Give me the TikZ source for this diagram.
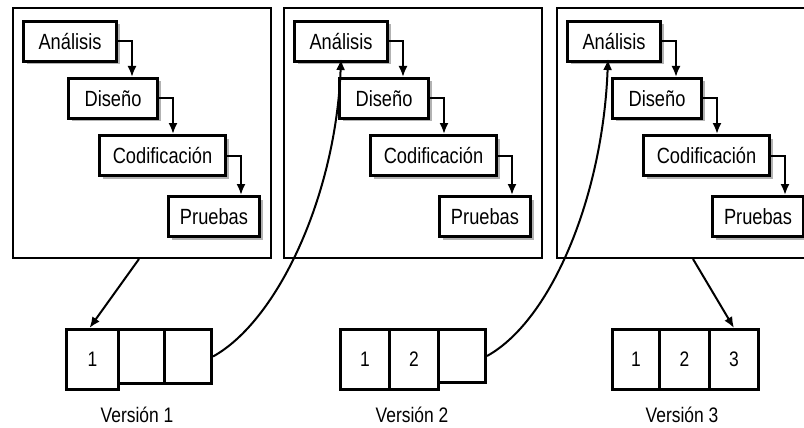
\documentclass[tikz,border=0pt]{standalone}
\usepackage{fontspec}
\setmainfont{Liberation Sans}[FakeStretch=0.83]
\usetikzlibrary{arrows.meta,shadows}

\begin{document}
\begin{tikzpicture}[x=1pt, y=-1pt,
    panel/.style={draw, line width=2pt, minimum width=258, minimum height=250, anchor=north west, inner sep=0},
    fase/.style={draw, line width=3pt, fill=white, minimum height=40, anchor=north west, inner sep=0,
        font=\fontsize{22}{24}\selectfont,
        drop shadow={shadow xshift=3pt, shadow yshift=-3pt, opacity=0.3, fill=black}},
    celda/.style={draw, line width=3pt, anchor=north west, inner sep=0, font=\fontsize{21}{24}\selectfont},
    flecha/.style={line width=2pt, -{Latex[length=11pt, width=9pt]}},
    etiqueta/.style={font=\fontsize{21}{24}\selectfont}]
    \path[use as bounding box, clip] (0,0) rectangle (804,428);

    % Ciclo en cascada de cada version
    \foreach \n/\x in {1/12, 2/283, 3/556} {
        \node[panel] (p\n) at (\x,7) {};
        \node[fase, minimum width=93] (a\n) at (\x+10,20) {Análisis};
        \node[fase, minimum width=89] (d\n) at (\x+55,77) {Diseño};
        \node[fase, minimum width=126] (c\n) at (\x+86,134) {Codificación};
        \node[fase, minimum width=91] (r\n) at (\x+155,195) {Pruebas};
        \draw[flecha] (a\n.east) -| ([xshift=14]a\n.east |- d\n.north);
        \draw[flecha] (d\n.east) -| ([xshift=14]d\n.east |- c\n.north);
        \draw[flecha] (c\n.east) -| ([xshift=14]c\n.east |- r\n.north);
    }

    % Versiones
    \node[celda, minimum width=52, minimum height=60] (va1) at (65,328) {1};
    \node[celda, minimum width=46, minimum height=54] (vb1) at (117,328) {};
    \node[celda, minimum width=47, minimum height=54] (vc1) at (163,328) {};
    \node[etiqueta] (t1) at (137,415) {Versión 1};

    \node[celda, minimum width=49, minimum height=60] (va2) at (339,328) {1};
    \node[celda, minimum width=49, minimum height=60] (vb2) at (388,328) {2};
    \node[celda, minimum width=47, minimum height=53] (vc2) at (437,328) {};
    \node[etiqueta] (t2) at (412,415) {Versión 2};

    \node[celda, minimum width=47, minimum height=60] (va3) at (611,328) {1};
    \node[celda, minimum width=50, minimum height=60] (vb3) at (658,328) {2};
    \node[celda, minimum width=49, minimum height=60] (vc3) at (708,328) {3};
    \node[etiqueta] (t3) at (682,415) {Versión 3};

    % Conexiones
    \draw[flecha] ([xshift=-3]p1.south) -- ([xshift=-3]va1.north);
    \draw[flecha] (vc1.east) .. controls +(65,-36) and +(-5,136) .. ([yshift=4]a2.south);
    \draw[flecha] (vc2.east) .. controls +(65,-36) and +(-5,136) .. ([xshift=-6,yshift=4]a3.south);
    \draw[flecha] ([xshift=7]p3.south) -- (vc3.north);
\end{tikzpicture}
\end{document}
